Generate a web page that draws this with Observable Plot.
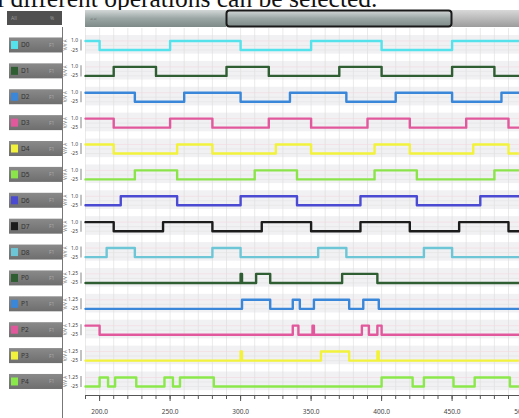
<!DOCTYPE html>
<html><head><meta charset="utf-8">
<script src="https://cdn.jsdelivr.net/npm/d3@7"></script>
<script src="https://cdn.jsdelivr.net/npm/@observablehq/plot@0.6"></script>
<style>
html,body{margin:0;padding:0;background:#fff;overflow:hidden}
#chart svg{display:block}
</style></head><body><div id="chart"></div>
<script>
// ---- data ----
const channelNames = ["D0","D1","D2","D3","D4","D5","D6","D7","D8","P0","P1","P2","P3","P4"];
const channelColors = ["#55e2ea","#2f5e33","#3a86d9","#e2589c","#f2f23c","#8ae44a","#4a4ad2","#1c1c1c","#6cc6d6","#2f5e33","#3a86d9","#e2589c","#f2f23c","#8ae84a"];
const topLabels = ["1.0","1.0","1.0","1.0","1.0","1.0","1.0","1.0","1.0","1.25","1.25","1.25","1.25","1.25"];
const bottomLabels = ["-25","-25","-25","-25","-25","-25","-25","-25","-25","-25","-25","-25","-25","-25"];
const startLevels = [1,0,1,1,1,0,0,1,0,0,0,1,0,0];
const edges0 = [200,250,300,350,400,450];
const edges1 = [210,240,290,320,370,400,450,480];
const edges2 = [225,260,300,335,375,410,450,485];
const edges3 = [210,250,280,320,350,390,420,460,490];
const edges4 = [210,255,280,325,350,395,420,465,490];
const edges5 = [225,255,310,340,395,425,480];
const edges6 = [215,255,300,340,385,425,470];
const edges7 = [210,245,280,315,350,385,420,455,490];
const edges8 = [205,225,280,300,355,375,430,450];
const edges9 = [300,301,311,321,372,397];
const edges10 = [301,321,337,342,352,377,387,398];
const edges11 = [200,337,341,351,352,386,391,397,400];
const edges12 = [300,301,357,377,397,398];
const edges13 = [200,206,211,226,246,252,257,281,400,422,430,451,466,491];
const allEdges = [edges0,edges1,edges2,edges3,edges4,edges5,edges6,edges7,edges8,edges9,edges10,edges11,edges12,edges13];
const tickValues = [200,250,300,350,400,450,500];
const minorTicks = d3.range(190, 496, 10);
const timeStart = 190, timeEnd = 497.8;
const headerText = "l different operations can be selected.";

// ---- build ----
const H = 0.35; // high level offset in row units
const points = [];
allEdges.forEach((edges, i) => {
  let lv = startLevels[i];
  points.push({ch: i, t: timeStart, y: i - lv * H});
  edges.forEach(e => { lv = 1 - lv; points.push({ch: i, t: e, y: i - lv * H}); });
  points.push({ch: i, t: timeEnd, y: i - lv * H});
});
const rows = channelNames.map((n, i) => ({i, name: n}));

const chart = Plot.plot({
  width: 519, height: 418,
  marginLeft: 85, marginRight: 0, marginTop: 28, marginBottom: 23,
  x: {domain: [timeStart, timeEnd], label: null},
  y: {domain: [0, 13], range: [49.5, 386], axis: null, label: null},
  style: {background: "transparent", fontFamily: "DejaVu Sans"},
  marks: [
    Plot.rect(rows, {x1: timeStart, x2: timeEnd, y1: d => d.i - 0.56, y2: d => d.i + 0.16, fill: "#f1f1f4"}),
    Plot.ruleX(minorTicks, {stroke: "#dcdcdc", strokeWidth: 0.6}),
    Plot.ruleY(rows, {y: d => d.i - H, stroke: "#f3d6de", strokeWidth: 0.6}),
    Plot.ruleY(rows, {y: d => d.i - H/2, stroke: "#e2e2e2", strokeWidth: 0.6}),
    Plot.ruleY(rows, {y: d => d.i, stroke: "#e2e2e2", strokeWidth: 0.6}),
    Plot.line(points, {x: "t", y: "y", z: "ch", curve: "step-after", stroke: d => channelColors[d.ch], strokeWidth: 2.4}),
    Plot.frame({anchor: "bottom", stroke: "#555"}),
    Plot.axisX({ticks: minorTicks, tickSize: 4, tickFormat: () => "", stroke: "#555", label: null}),
    Plot.axisX({ticks: tickValues, tickSize: 6, tickFormat: d => d.toFixed(1), fontSize: 6.5, tickPadding: 8, fill: "#444", stroke: "#555", label: null})
  ]
});
chart.setAttribute("style", "overflow:hidden;background:#fff");
document.getElementById("chart").appendChild(chart);

// ---- decorations (screen chrome) ----
const svg = d3.select(chart);
const ys = chart.scale("y");
const defs = svg.insert("defs", ":first-child");
const g1 = defs.append("linearGradient").attr("id", "barg").attr("x1", 0).attr("x2", 0).attr("y1", 0).attr("y2", 1);
g1.append("stop").attr("offset", 0).attr("stop-color", "#d3d8d7");
g1.append("stop").attr("offset", 0.5).attr("stop-color", "#9aa6a4");
g1.append("stop").attr("offset", 1).attr("stop-color", "#7d8a88");
const g2 = defs.append("linearGradient").attr("id", "boxg").attr("x1", 0).attr("x2", 0).attr("y1", 0).attr("y2", 1);
g2.append("stop").attr("offset", 0).attr("stop-color", "#8a8a8a");
g2.append("stop").attr("offset", 1).attr("stop-color", "#6e6e6e");
const g3 = defs.append("linearGradient").attr("id", "rg").attr("x1", 0).attr("x2", 0).attr("y1", 0).attr("y2", 1);
g3.append("stop").attr("offset", 0).attr("stop-color", "#d8d8d8");
g3.append("stop").attr("offset", 1).attr("stop-color", "#9c9c9c");

const deco = svg.append("g").attr("text-anchor", "start").style("text-anchor", "start");
deco.append("text").attr("x", -3).attr("y", 7)
  .style("font-family", "'Liberation Serif', serif").style("font-size", "25.5px").style("fill", "#111").style("text-anchor", "start")
  .text(headerText);
// top scroll bar
deco.append("rect").attr("x", 85).attr("y", 10).attr("width", 141).attr("height", 17).attr("fill", "url(#barg)");
deco.append("rect").attr("x", 452).attr("y", 10).attr("width", 67).attr("height", 17).attr("fill", "url(#rg)");
deco.append("rect").attr("x", 226.5).attr("y", 10.5).attr("width", 225).attr("height", 16).attr("rx", 3).attr("fill", "url(#barg)").attr("stroke", "#1a1a1a").attr("stroke-width", 2);
deco.append("text").attr("x", 90).attr("y", 21).style("font-size", "6px").style("fill", "#666").text("<<");
// header box left
deco.append("rect").attr("x", 7).attr("y", 11).attr("width", 55).attr("height", 14).attr("fill", "#505050");
deco.append("text").attr("x", 11).attr("y", 20).style("font-size", "5px").style("fill", "#999").text("All");
deco.append("text").attr("x", 50).attr("y", 20).style("font-size", "5px").style("fill", "#999").text("%");
// separator
deco.append("line").attr("x1", 62.5).attr("x2", 62.5).attr("y1", 27).attr("y2", 418).attr("stroke", "#777").attr("stroke-width", 1);

rows.forEach(r => {
  const yl = ys.apply(r.i), yh = ys.apply(r.i - H), ym = (yl + yh) / 2;
  const g = deco.append("g");
  g.append("rect").attr("x", 9).attr("y", ym - 7.5).attr("width", 53).attr("height", 15).attr("fill", "url(#boxg)");
  g.append("rect").attr("x", 11).attr("y", ym - 4).attr("width", 7).attr("height", 8).attr("fill", channelColors[r.i]);
  g.append("text").attr("x", 21).attr("y", ym + 2.5).style("font-size", "6.5px").style("fill", "#333").text(r.name);
  g.append("text").attr("x", 49).attr("y", ym + 2).style("font-size", "5px").style("fill", "#aaa").text("F1");
  g.append("text").attr("transform", `translate(67,${ym}) rotate(-90)`).style("text-anchor", "middle").style("font-size", "4.5px").style("fill", "#666").text("V/V A");
  g.append("text").attr("x", 78).attr("y", yh + 2).style("text-anchor", "end").style("font-size", "5px").style("fill", "#444").text(topLabels[r.i]);
  g.append("text").attr("x", 78).attr("y", yl + 2).style("text-anchor", "end").style("font-size", "5px").style("fill", "#444").text(bottomLabels[r.i]);
  g.append("line").attr("x1", 81).attr("x2", 81).attr("y1", yh - 1).attr("y2", yl + 1).attr("stroke", "#999").attr("stroke-width", 1.2);
});
</script></body></html>
